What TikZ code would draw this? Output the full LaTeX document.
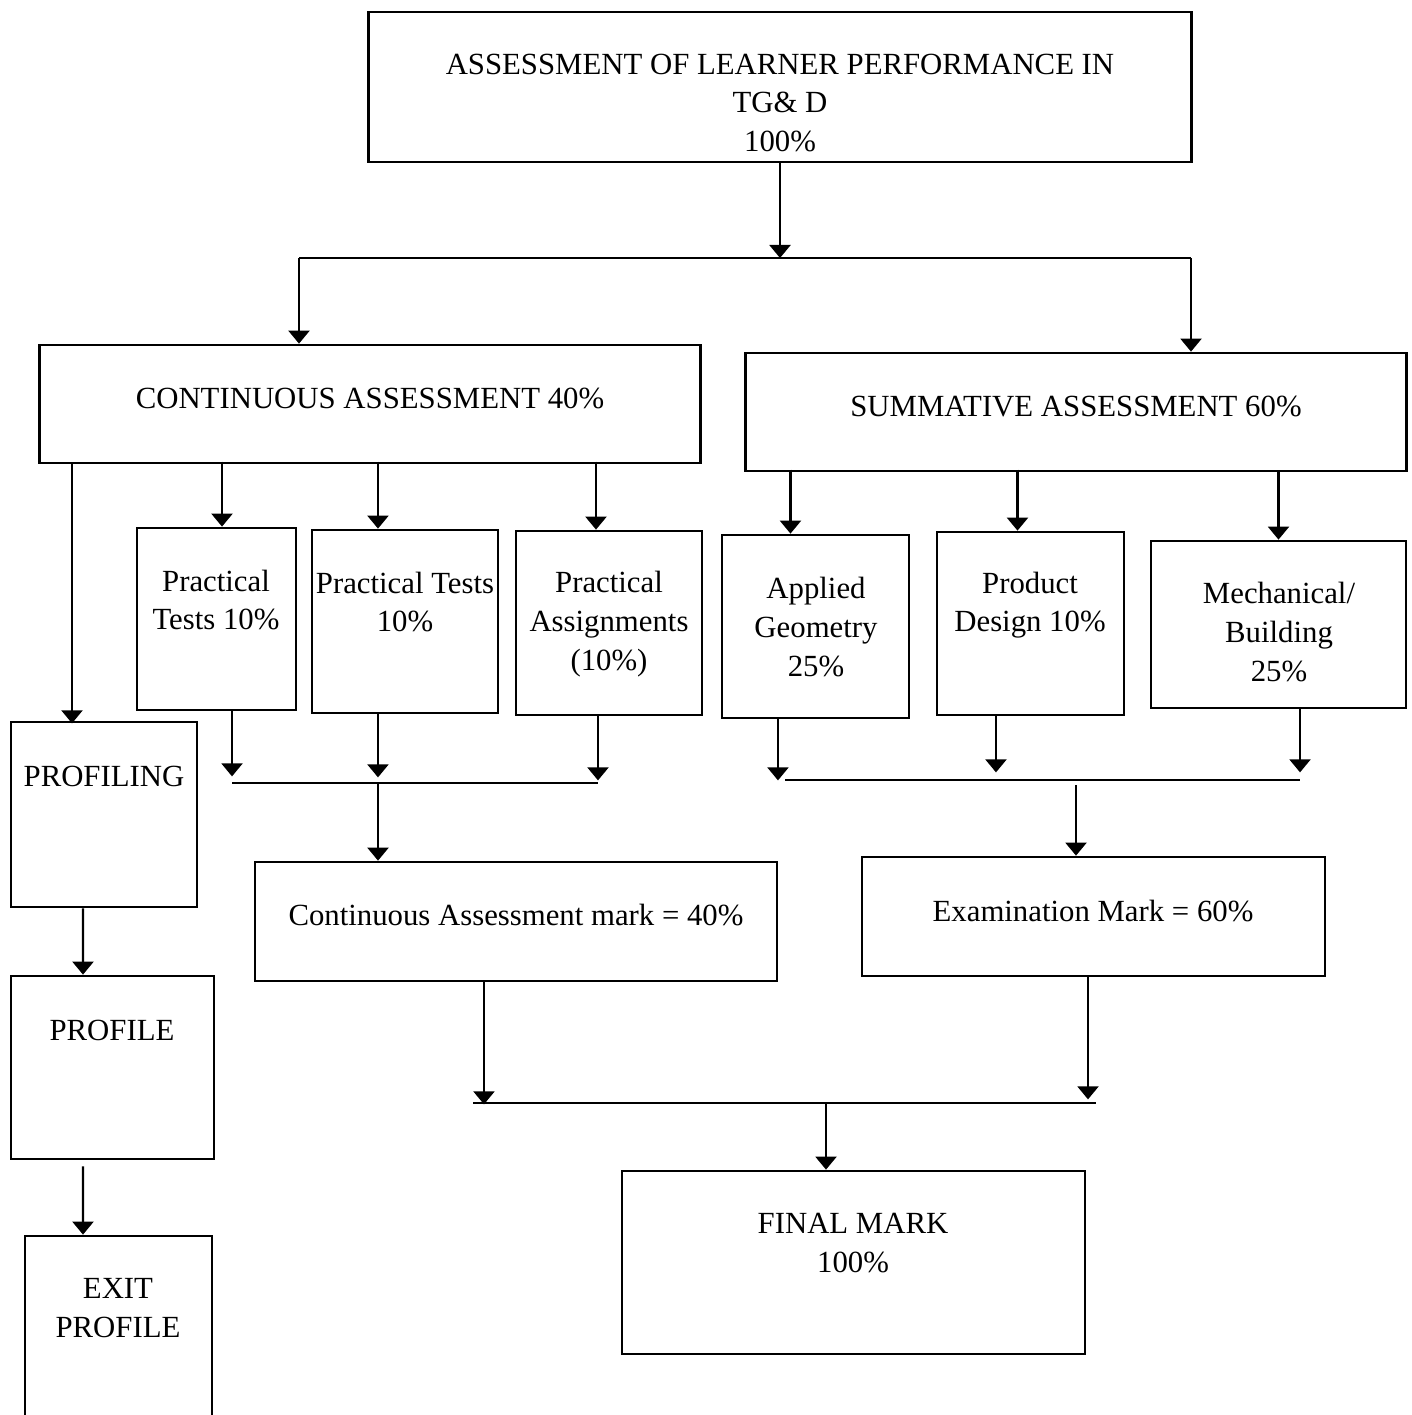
\documentclass[tikz,border=0pt]{standalone}
\usepackage{fontspec}
\setmainfont{Liberation Serif}
\usetikzlibrary{arrows.meta}
\begin{document}
\begin{tikzpicture}[
    x=0.01cm, y=-0.01cm,
    box/.style={draw, line width=0.75pt, inner sep=0pt},
    txt/.style={font=\fontsize{8.75}{11}\selectfont, align=center, inner sep=0pt},
    arr/.style={-{Triangle[width=0.21cm,length=0.13cm]}, line width=0.6pt},
    link/.style={line width=0.6pt}
]
\useasboundingbox (0,0) rectangle (1412,1415);
% ---------------- top level ----------------
\node[box, minimum width=8.22cm, minimum height=1.50cm] (top) at (780,87) {};
\node[txt] (topT) at (780,103) {ASSESSMENT OF LEARNER PERFORMANCE IN\\TG\& D\\100\%};
\coordinate (j0) at (780,258);
\coordinate (j0L) at (299,258);
\coordinate (j0R) at (1191,258);
\draw[arr] (top.south) -- (j0);
\draw[link] (j0L) -- (j0R);
% ---------------- continuous / summative ----------------
\node[box, minimum width=6.60cm, minimum height=1.18cm] (ca) at (370,404) {};
\node[txt] (caT) at (370,398) {CONTINUOUS ASSESSMENT 40\%};
\node[box, minimum width=6.60cm, minimum height=1.18cm] (sa) at (1076,412) {};
\node[txt] (saT) at (1076,406) {SUMMATIVE ASSESSMENT 60\%};
\draw[arr] (j0L) -- (j0L |- ca.north);
\draw[arr] (j0R) -- (j0R |- sa.north);
% ---------------- components ----------------
\node[box, minimum width=1.59cm, minimum height=1.82cm] (pt1) at (216.5,619) {};
\node[txt] (pt1T) at (216,600) {Practical\\Tests 10\%};
\node[box, minimum width=1.86cm, minimum height=1.83cm] (pt2) at (405,621.5) {};
\node[txt] (pt2T) at (405,602) {Practical Tests\\10\%};
\node[box, minimum width=1.86cm, minimum height=1.84cm] (pa) at (609,623) {};
\node[txt] (paT) at (609,624) {Practical\\Assignments\\(10\%)};
\node[box, minimum width=1.87cm, minimum height=1.83cm] (ag) at (815.5,626.5) {};
\node[txt] (agT) at (816,627) {Applied\\Geometry\\25\%};
\node[box, minimum width=1.87cm, minimum height=1.83cm] (pd) at (1030.5,623.5) {};
\node[txt] (pdT) at (1030,605) {Product\\Design 10\%};
\node[box, minimum width=2.55cm, minimum height=1.67cm] (mb) at (1278.5,624.5) {};
\node[txt] (mbT) at (1279,632) {Mechanical/\\Building\\25\%};
\draw[arr] ([xshift=0.055cm]pt1.north) ++(0,-65) -- ([xshift=0.055cm]pt1.north);
\draw[arr] ([xshift=-0.27cm]pt2.north) ++(0,-67) -- ([xshift=-0.27cm]pt2.north);
\draw[arr] ([xshift=-0.13cm]pa.north) ++(0,-68) -- ([xshift=-0.13cm]pa.north);
\draw[arr] ([xshift=-0.25cm]ag.north) ++(0,-64) -- ([xshift=-0.25cm]ag.north);
\draw[arr] ([xshift=-0.13cm]pd.north) ++(0,-61) -- ([xshift=-0.13cm]pd.north);
\draw[arr] (sa.south -| mb.north) -- (mb.north);
% ---------------- sub-totals ----------------
\coordinate (jcaL) at (232,783);
\coordinate (jcaM) at (378,783);
\coordinate (jcaR) at (598,783);
\coordinate (jsaL) at (785,780);
\coordinate (jsaM) at (1076,785);
\coordinate (jsaR) at (1300,780);
\draw[arr] ([xshift=0.155cm]pt1.south) -- ++(0,65);
\draw[arr] ([xshift=-0.27cm]pt2.south) -- ++(0,63);
\draw[arr] ([xshift=-0.11cm]pa.south) -- ++(0,64);
\draw[arr] ([xshift=-0.375cm]ag.south) -- ++(0,61);
\draw[arr] ([xshift=-0.345cm]pd.south) -- ++(0,56);
\draw[arr] ([xshift=0.215cm]mb.south) -- ++(0,63);
\draw[link] (jcaL) -- (jcaR);
\draw[link] (jsaL) -- (jsaR);
\node[box, minimum width=5.22cm, minimum height=1.19cm] (cam) at (516,921.5) {};
\node[txt] (camT) at (516,915) {Continuous Assessment mark = 40\%};
\node[box, minimum width=4.63cm, minimum height=1.19cm] (exm) at (1093.5,916.5) {};
\node[txt] (exmT) at (1093,911) {Examination Mark = 60\%};
\draw[arr] (jcaM) -- (jcaM |- cam.north);
\draw[arr] (jsaM) -- (jsaM |- exm.north);
% ---------------- final mark ----------------
\coordinate (jfmL) at (473,1103);
\coordinate (jfmM) at (826,1103);
\coordinate (jfmR) at (1096,1103);
\draw[arr] ([xshift=-0.32cm]cam.south) -- ++(0,122);
\draw[arr] ([xshift=-0.055cm]exm.south) -- ++(0,122);
\draw[link] (jfmL) -- (jfmR);
\node[box, minimum width=4.63cm, minimum height=1.83cm] (fm) at (853.5,1262.5) {};
\node[txt] (fmT) at (853,1243) {FINAL MARK\\100\%};
\draw[arr] (jfmM) -- (jfmM |- fm.north);
% ---------------- profiling ----------------
\node[box, minimum width=1.86cm, minimum height=1.85cm] (pfg) at (104,814.5) {};
\node[txt] (pfgT) at (104,776) {PROFILING};
\node[box, minimum width=2.03cm, minimum height=1.83cm] (pf) at (112.5,1067.5) {};
\node[txt] (pfT) at (112,1030) {PROFILE};
\node[box, minimum width=1.87cm, minimum height=2.04cm] (ex) at (118.5,1338) {};
\node[txt] (exT) at (118,1308) {EXIT\\PROFILE};
\draw[arr] (ca.south -| 72,0) -- ++(0,259);
\draw[arr] ([xshift=-0.21cm]pfg.south) -- (pf.north -| 83,0);
\draw[arr] ([xshift=-0.295cm]pf.south) ++(0,6) -- (ex.north -| 83,0);
\end{tikzpicture}
\end{document}
